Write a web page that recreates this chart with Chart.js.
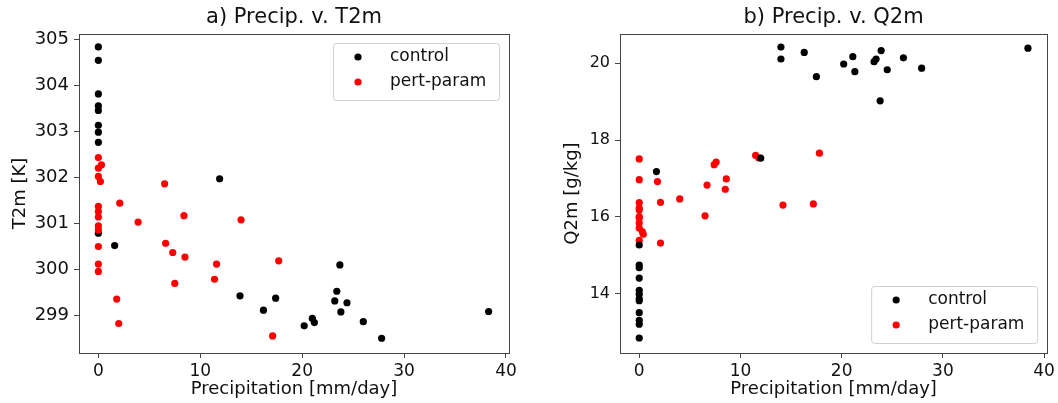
<!DOCTYPE html>
<html>
<head>
<meta charset="utf-8">
<script src="https://cdn.jsdelivr.net/npm/chart.js@4.4.1/dist/chart.umd.min.js"></script>
<style>
  body { margin: 0; background: #fff; width: 1058px; height: 403px; overflow: hidden; position: relative; }
  .panel { position: absolute; top: 0; width: 529px; height: 403px; }
</style>
</head>
<body>
<div class="panel" style="left:0"><canvas id="chartA" width="529" height="403"></canvas></div>
<div class="panel" style="left:529px"><canvas id="chartB" width="529" height="403"></canvas></div>
<script>
// panel a) precipitation vs 2 m temperature
const precipCtlA = [0, 0, 0, 0, 0, 0, 0, 0, 0, 1.6, 11.9, 13.9, 16.2, 17.4, 20.2, 21.0, 21.2, 23.2, 23.4, 23.7, 23.8, 24.4, 26.0, 27.8, 38.3];
const t2mCtl = [304.83, 304.54, 303.81, 303.55, 303.45, 303.13, 302.98, 302.76, 300.79, 300.52, 301.97, 299.43, 299.12, 299.38, 298.78, 298.94, 298.85, 299.32, 299.53, 300.10, 299.08, 299.28, 298.87, 298.51, 299.09];
const precipPertA = [0, 0, 0.3, 0, 0.2, 0, 0, 0, 0, 0, 0, 0, 0, 1.8, 2.0, 2.1, 3.9, 6.5, 6.6, 7.3, 7.5, 8.4, 8.5, 11.4, 11.6, 14.0, 17.1, 17.7];
const t2mPert = [302.43, 302.20, 302.27, 302.02, 301.91, 301.37, 301.26, 301.14, 300.95, 300.86, 300.50, 300.12, 299.96, 299.36, 298.83, 301.44, 301.03, 301.86, 300.57, 300.37, 299.70, 301.17, 300.27, 299.79, 300.12, 301.08, 298.56, 300.19];

// panel b) precipitation vs 2 m specific humidity
const precipCtlB = [0, 0, 0, 0, 0, 0, 0, 0, 0, 0, 0, 0, 1.7, 12.0, 14.0, 14.0, 16.3, 17.5, 20.2, 21.1, 21.3, 23.2, 23.4, 23.8, 23.9, 24.5, 26.1, 27.9, 38.4];
const q2mCtl = [15.27, 14.75, 14.68, 14.41, 14.09, 13.99, 13.87, 13.82, 13.51, 13.31, 13.21, 12.85, 17.18, 17.53, 20.42, 20.11, 20.28, 19.65, 19.98, 20.17, 19.78, 20.04, 20.11, 19.02, 20.33, 19.83, 20.14, 19.87, 20.39];
const precipPertB = [0, 0, 0, 0, 0, 0, 0, 0, 0, 0.3, 0.4, 0, 1.8, 2.1, 2.1, 4.0, 6.5, 6.7, 7.4, 7.6, 8.5, 8.6, 11.5, 11.8, 14.2, 17.2, 17.8];
const q2mPert = [17.51, 16.97, 16.37, 16.23, 16.18, 16.01, 15.97, 15.84, 15.71, 15.62, 15.55, 15.39, 16.92, 16.38, 15.32, 16.47, 16.03, 16.83, 17.36, 17.43, 16.72, 16.99, 17.60, 17.54, 16.31, 16.34, 17.66];

const seriesNames = ['control', 'pert-param'];
const precipTicks = [0, 10, 20, 30, 40];
const t2mTicks = [299, 300, 301, 302, 303, 304, 305];
const q2mTicks = [14, 16, 18, 20];

const FONT = "'DejaVu Sans', sans-serif";
const AXIS = '#444';

function pts(xs, ys) {
    return xs.map((x, i) => ({ x: x, y: ys[i] }));
}

// box around the whole plot area, like matplotlib spines
const framePlugin = {
    id: 'frame',
    afterDraw(chart) {
        const a = chart.chartArea, ctx = chart.ctx;
        ctx.save();
        ctx.strokeStyle = AXIS;
        ctx.lineWidth = 1;
        ctx.strokeRect(Math.round(a.left) + 0.5, Math.round(a.top) + 0.5, Math.round(a.right - a.left), Math.round(a.bottom - a.top));
        ctx.restore();
    }
};

const titlePlugin = {
    id: 'panelTitle',
    afterDraw(chart, args, opts) {
        const a = chart.chartArea, ctx = chart.ctx;
        ctx.save();
        ctx.font = '21px ' + FONT;
        ctx.fillStyle = '#111';
        ctx.textAlign = 'center';
        ctx.textBaseline = 'middle';
        ctx.fillText(opts.text, (a.left + a.right) / 2, 18);
        ctx.restore();
    }
};

// legend drawn inside the axes
const boxLegendPlugin = {
    id: 'boxLegend',
    afterDraw(chart, args, opts) {
        const a = chart.chartArea, ctx = chart.ctx;
        const w = 166, h = 57;
        const x0 = a.right - 10 - w;
        const y0 = opts.corner === 'top' ? a.top + 9 : a.bottom - 10 - h;
        ctx.save();
        ctx.fillStyle = 'rgba(255,255,255,0.8)';
        ctx.strokeStyle = '#d0d0d0';
        ctx.lineWidth = 1;
        ctx.beginPath();
        ctx.roundRect(x0 + 0.5, y0 + 0.5, w, h, 3);
        ctx.fill();
        ctx.stroke();
        ctx.font = '17px ' + FONT;
        ctx.textBaseline = 'middle';
        chart.data.datasets.forEach((ds, i) => {
            const cy = y0 + 14 + i * 25;
            ctx.fillStyle = ds.backgroundColor;
            ctx.beginPath();
            ctx.arc(x0 + 25, cy, 3.6, 0, Math.PI * 2);
            ctx.fill();
            ctx.fillStyle = '#111';
            ctx.fillText(ds.label, x0 + 57, cy);
        });
        ctx.restore();
    }
};

function makePanel(id, p) {
    new Chart(document.getElementById(id), {
        type: 'scatter',
        data: {
            datasets: [
                { label: seriesNames[0], data: pts(p.ctlX, p.ctlY), backgroundColor: '#000000', borderWidth: 0, pointRadius: 3.6, order: p.ctlOrder },
                { label: seriesNames[1], data: pts(p.pertX, p.pertY), backgroundColor: '#ff0000', borderWidth: 0, pointRadius: 3.6, order: p.pertOrder }
            ]
        },
        options: {
            responsive: false,
            animation: false,
            events: [],
            devicePixelRatio: 1,
            layout: { padding: { top: 34, right: p.padRight, left: 0, bottom: 0 } },
            plugins: {
                legend: { display: false },
                tooltip: { enabled: false },
                panelTitle: { text: p.title },
                boxLegend: { corner: p.legendCorner }
            },
            scales: {
                x: {
                    type: 'linear',
                    min: -1.9,
                    max: 40.3,
                    afterFit: s => { s.height = 50; },
                    afterBuildTicks: s => { s.ticks = precipTicks.map(v => ({ value: v })); },
                    grid: { drawOnChartArea: false, drawTicks: true, tickLength: 5, tickColor: AXIS },
                    border: { display: true, color: AXIS, width: 1 },
                    ticks: { font: { family: FONT, size: 17 }, color: '#111', padding: 3, maxRotation: 0 },
                    title: { display: true, text: 'Precipitation [mm/day]', font: { family: FONT, size: 18 }, color: '#111', padding: { top: 0, bottom: 3 } }
                },
                y: {
                    type: 'linear',
                    min: p.yMin,
                    max: p.yMax,
                    afterFit: s => { s.width = p.yAxisW; },
                    afterBuildTicks: s => { s.ticks = p.yTicks.map(v => ({ value: v })); },
                    grid: { drawOnChartArea: false, drawTicks: true, tickLength: 5, tickColor: AXIS },
                    border: { display: true, color: AXIS, width: 1 },
                    ticks: { font: { family: FONT, size: p.yTickSize }, color: '#111', padding: 5 },
                    title: { display: true, text: p.yTitle, font: { family: FONT, size: 18 }, color: '#111', padding: { top: p.yTitlePad, bottom: 0 } }
                }
            }
        },
        plugins: [framePlugin, titlePlugin, boxLegendPlugin]
    });
}

makePanel('chartA', {
    title: 'a) Precip. v. T2m',
    yTitle: 'T2m [K]',
    ctlX: precipCtlA, ctlY: t2mCtl, pertX: precipPertA, pertY: t2mPert,
    ctlOrder: 1, pertOrder: 0,
    yMin: 298.19, yMax: 305.11, yTicks: t2mTicks,
    yAxisW: 79, padRight: 20, yTickSize: 18, yTitlePad: 10,
    legendCorner: 'top'
});

makePanel('chartB', {
    title: 'b) Precip. v. Q2m',
    yTitle: 'Q2m [g/kg]',
    ctlX: precipCtlB, ctlY: q2mCtl, pertX: precipPertB, pertY: q2mPert,
    ctlOrder: 0, pertOrder: 1,
    yMin: 12.46, yMax: 20.76, yTicks: q2mTicks,
    yAxisW: 91, padRight: 9, yTickSize: 16, yTitlePad: 33,
    legendCorner: 'bottom'
});
</script>
</body>
</html>
